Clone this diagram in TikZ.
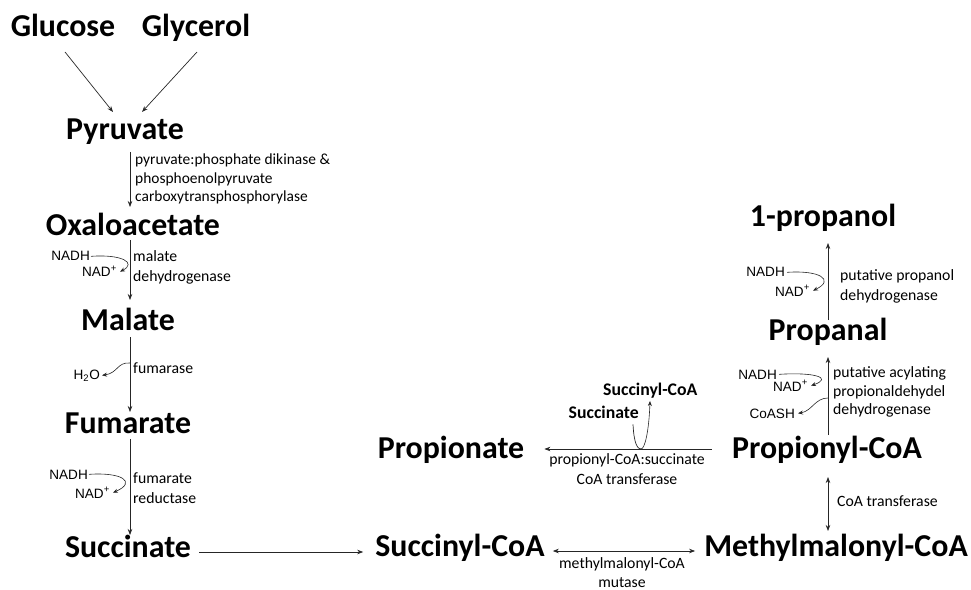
\documentclass[tikz,border=0pt]{standalone}
\usepackage{fontspec}
\setmainfont{Carlito}
\newfontfamily\coffont{Liberation Sans}
\usetikzlibrary{arrows.meta,calc}
\begin{document}
\begin{tikzpicture}[x=1bp,y=-1bp,
  big/.style={font=\fontsize{32}{38}\selectfont\bfseries, inner sep=0pt, anchor=base},
  enz/.style={font=\fontsize{15.8}{20}\selectfont, inner sep=0pt, align=left, anchor=north west},
  enzc/.style={font=\fontsize{15.8}{20}\selectfont, inner sep=0pt, align=center, anchor=north},
  cof/.style={font=\coffont\fontsize{13.6}{16}\selectfont, inner sep=0pt, anchor=base east},
  sbold/.style={font=\fontsize{17.8}{20}\selectfont\bfseries, inner sep=0pt},
  arr/.style={draw=black!85, line width=0.7bp, -{Stealth[length=6bp,width=4.5bp]}},
  darr/.style={draw=black!85, line width=0.7bp, {Stealth[length=6bp,width=4.5bp]}-{Stealth[length=6bp,width=4.5bp]}},
  carr/.style={draw=black!85, line width=0.6bp, -{Stealth[length=5bp,width=4bp]}},
  ln/.style={draw=black!85, line width=0.7bp}]
\useasboundingbox (0,0) rectangle (971,590);

% main metabolites
\node[big] (glc) at (63,37) {Glucose};
\node[big] (gly) at (196,37) {Glycerol};
\node[big] (pyr) at (125,140) {Pyruvate};
\node[big] (oxa) at (133,236) {Oxaloacetate};
\node[big] (mal) at (128,330) {Malate};
\node[big] (fum) at (128,433) {Fumarate};
\node[big] (suc) at (128,557) {Succinate};
\node[big] (scoa) at (460,556) {Succinyl-CoA};
\node[big] (mcoa) at (836,556) {Methylmalonyl-CoA};
\node[big] (pcoa) at (827,458) {Propionyl-CoA};
\node[big] (prop) at (451,458) {Propionate};
\node[big] (pal) at (828,340) {Propanal};
\node[big] (pol) at (823,227) {1-propanol};

\coordinate (lc) at (130,0);
\coordinate (rc) at (828,0);

% left column arrows
\draw[arr] ($(glc.base)+(2,15)$) -- ($(pyr.base)+(-12,-28)$);
\draw[arr] ($(gly.base)+(1,15)$) -- ($(pyr.base)+(17,-28)$);
\draw[arr] ($(pyr.base -| lc)+(0,12)$) -- ($(oxa.base -| lc)+(0,-29)$);
\draw[arr] ($(oxa.base -| lc)+(0,4)$) -- ($(mal.base -| lc)+(0,-30)$);
\draw[arr] ($(mal.base -| lc)+(0,7)$) -- ($(fum.base -| lc)+(0,-21)$);
\draw[arr] ($(fum.base -| lc)+(0,6)$) -- ($(suc.base -| lc)+(0,-22)$);

% bottom row
\draw[arr] ($(suc.base east)+(8,-5)$) -- ($(scoa.base west)+(-12,-4)$);
\draw[darr] ($(scoa.base east)+(8,-5)$) -- ($(mcoa.base west)+(-9,-5)$);
\draw[darr] ($(pcoa.base -| rc)+(0,19)$) -- ($(mcoa.base -| rc)+(0,-25)$);
\draw[arr] ($(pcoa.base west)+(-20,-9)$) -- ($(prop.base east)+(20,-9)$);
\draw[arr] ($(pcoa.base -| rc)+(0,-23)$) -- ($(pal.base -| rc)+(0,17)$);
\draw[arr] ($(pal.base -| rc)+(0,-20)$) -- ($(pol.base -| rc)+(0,16)$);

% enzyme labels
\node[enz, font=\fontsize{15.5}{18.5}\selectfont] (e1) at (135,154) {pyruvate:phosphate dikinase \&\\phosphoenolpyruvate\\carboxytransphosphorylase};
\node[enz] (e2) at (133,250) {malate\\dehydrogenase};
\node[enz, anchor=base west] (e3) at (133,373) {fumarase};
\node[enz] (e4) at (133,473) {fumarate\\reductase};
\node[enz] (e5) at (840,269) {putative propanol\\dehydrogenase};
\node[enz, font=\fontsize{15.8}{19}\selectfont] (e6) at (833,366) {putative acylating\\propionaldehydel\\dehydrogenase};
\node[enzc] (e7) at (627,453) {propionyl-CoA:succinate\\CoA transferase};
\node[enzc, font=\fontsize{15.8}{19}\selectfont] (e8) at (622,557) {methylmalonyl-CoA\\mutase};
\node[enz, anchor=base west] (e9) at (837,506) {CoA transferase};

% cofactors
\node[cof] (nadh1) at (90,261) {NADH};
\node[cof] (nad1) at (117,277) {NAD\textsuperscript{+}};
\node[cof] (h2o) at (100,379) {H\textsubscript{2}O};
\node[cof] (nadh2) at (88,479) {NADH};
\node[cof] (nad2) at (110,498) {NAD\textsuperscript{+}};
\node[cof] (nadh3) at (785,277) {NADH};
\node[cof] (nad3) at (810,296) {NAD\textsuperscript{+}};
\node[cof] (nadh4) at (777,379) {NADH};
\node[cof] (nad4) at (808,391) {NAD\textsuperscript{+}};
\node[cof] (coash) at (795,418) {CoASH};
\node[sbold, anchor=base east] (ssuc) at (639,418) {Succinate};
\node[sbold, anchor=base west] (sscoa) at (603,395) {Succinyl-CoA};

\coordinate (f1) at (130,363);
\coordinate (f2) at (828,398);
\coordinate (f3) at (641,449);

% cofactor curves
\draw[carr] ([xshift=1bp]nadh1.east) .. controls (122,254) and (137,263) .. ([xshift=3bp]nad1.east);
\draw[carr] (f1) .. controls (117,362) and (118,373) .. ([xshift=2bp]h2o.east);
\draw[carr] ([xshift=1bp]nadh2.east) .. controls (122,472) and (137,482) .. ([xshift=3bp]nad2.east);
\draw[carr] ([xshift=2bp]nadh3.east) .. controls (820,270) and (835,280) .. ([xshift=3bp]nad3.east);
\draw[carr] ([xshift=2bp]nadh4.east) .. controls (815,372) and (833,378) .. ([xshift=3bp]nad4.east);
\draw[carr] (f2) .. controls (815,398) and (812,411) .. ([xshift=3bp]coash.east);
\draw[ln] ($(ssuc.south east)+(-6,6)$) .. controls (634,445) and (638,449) .. (f3);
\draw[carr] (f3) .. controls (645,449) and (649,430) .. ($(sscoa.south west)+(47,3)$);
\end{tikzpicture}
\end{document}
